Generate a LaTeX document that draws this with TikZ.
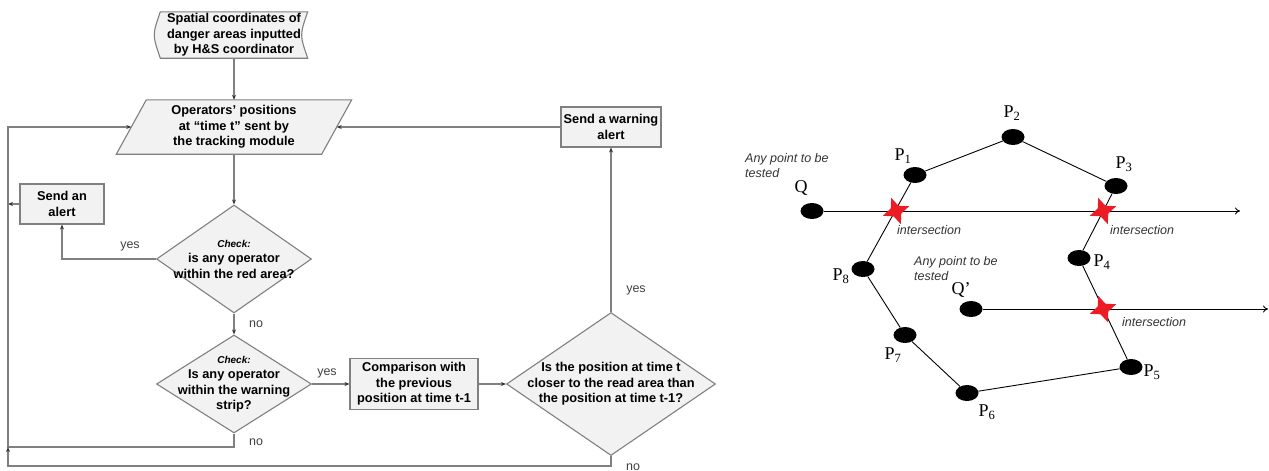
\documentclass[tikz,border=0pt]{standalone}
\usepackage{fontspec}
\setmainfont{Liberation Sans}
\newfontfamily\tnr{Liberation Serif}
\usepackage{tikz}
\usetikzlibrary{arrows,arrows.meta,shapes,positioning,calc,backgrounds}
\usepackage{xcolor}
\definecolor{fcline}{RGB}{128,128,128}
\definecolor{fcfill}{RGB}{242,242,242}
\definecolor{xred}{RGB}{235,28,36}
\newcommand{\fcfont}{\fontsize{12.8}{15.5}\selectfont\bfseries}
\newcommand{\chk}{{\fontsize{10}{15.5}\selectfont\bfseries\itshape Check:}}
\tikzstyle{flow} = [line width=1.1pt, draw=fcline, -{Stealth[length=5pt,width=4pt,black!80]}]
\tikzstyle{ray} = [line width=0.9pt, -{To[length=5pt,width=7pt]}]
\tikzstyle{edge} = [line width=0.9pt]
\tikzstyle{shapeline} = [draw=fcline, line width=1.1pt, fill=fcfill]
\tikzstyle{process} = [rectangle, shapeline, align=center, font=\fcfont, inner sep=0pt]
\tikzstyle{plain} = [rectangle, align=center, font=\fcfont, inner sep=0pt]
\tikzstyle{decision} = [diamond, shapeline, inner sep=0pt]
\tikzstyle{dectext} = [align=center, font=\fcfont]
\tikzstyle{answer} = [font=\fontsize{12.5}{14}\selectfont, text=black!75, inner sep=0pt]
\tikzstyle{dot} = [ellipse, fill=black, minimum width=23pt, minimum height=16pt, inner sep=0pt]
\tikzstyle{cross} = [star, star points=4, star point ratio=2.4, fill=xred, minimum size=28pt, inner sep=0pt, rotate=20]
\tikzstyle{note} = [font=\fontsize{12.5}{15}\selectfont\itshape, text=black!80, align=left, anchor=west, inner sep=0pt]
\tikzstyle{plab} = [font=\fontsize{18}{18}\selectfont\tnr, inner sep=0pt]

\begin{document}
\begin{tikzpicture}[x=1pt, y=-1pt]
\useasboundingbox (0,0) rectangle (1269,471);

% Flowchart
\node (src) [plain, minimum width=147pt, minimum height=46pt] at (234,35) {Spatial coordinates of\\danger areas inputted\\by H\&S coordinator};
\node (pos) [plain, minimum width=205pt, minimum height=54pt] at (234,127) {Operators’ positions\\at “time t” sent by\\the tracking module};
\begin{scope}[on background layer]
\draw[shapeline] (src.north west) .. controls ($(src.west)+(-8,0)$) .. (src.south west) -- (src.south east) .. controls ($(src.east)+(-8,0)$) .. (src.north east) -- cycle;
\draw[shapeline] ([xshift=-15pt]pos.south west) -- ([xshift=15pt]pos.north west) -- ([xshift=15pt]pos.north east) -- ([xshift=-15pt]pos.south east) -- cycle;
\end{scope}

\node (alert) [process, minimum width=84pt, minimum height=40pt] at (62,204) {Send an\\alert};
\node (warn) [process, minimum width=100pt, minimum height=40pt] at (611,127) {Send a warning\\alert};
\node (cmp) [process, minimum width=128pt, minimum height=51pt] at (414,384) {Comparison with\\the previous\\position at time t-1};

\node (chk1) [decision, minimum width=155pt, minimum height=108pt, label={[dectext]center:{\chk\\is any operator\\within the red area?}}] at (234,259) {};
\node (chk2) [decision, minimum width=155pt, minimum height=98pt, label={[dectext]center:{\chk\\Is any operator\\within the warning\\strip?}}] at (234,384) {};
\node (chk3) [decision, minimum width=209pt, minimum height=143pt, label={[dectext]center:{Is the position at time t\\closer to the read area than\\the position at time t-1?}}] at (611,384) {};

% Answers
\node (y1) [answer] at (130,246) {yes};
\node (n1) [answer] at (256,324) {no};
\node (y2) [answer] at (327,373) {yes};
\node (n2) [answer] at (256,442) {no};
\node (y3) [answer] at (636,290) {yes};
\node (n3) [answer] at (633,467) {no};

% Loop back
\coordinate (loopA) at (8,447);
\coordinate (loopB) at (8,466);

% Connections
\draw[flow] (src) -- (pos);
\draw[flow] (pos) -- (chk1);
\draw[flow] (chk1.west) -| (alert.south);
\draw[flow] (alert.west) -- (alert.west -| loopA);
\draw[flow] (chk1) -- (chk2);
\draw[flow] (chk2.east) -- (cmp.west);
\draw[flow] (cmp.east) -- (chk3.west);
\draw[flow] (chk3.north) -- (warn.south);
\draw[flow] (warn.west) -- (pos.east);
\draw[flow] (chk2.south) |- (loopA) |- (pos.west);
\draw[flow] (chk3.south) |- (loopB) -- (loopA);

% Polygon test
\node (p1) [dot] at (915,175) {};
\node (p2) [dot] at (1013,137) {};
\node (p3) [dot] at (1116,186) {};
\node (p4) [dot] at (1079,258) {};
\node (p5) [dot] at (1131,367) {};
\node (p6) [dot] at (967,393) {};
\node (p7) [dot] at (905,335) {};
\node (p8) [dot] at (863,269) {};
\node (q) [dot] at (812,211) {};
\node (qq) [dot] at (971,309) {};

\node (lp1) [plab] at (903,156) {P\textsubscript{1}};
\node (lp2) [plab] at (1012,113) {P\textsubscript{2}};
\node (lp3) [plab] at (1124,164) {P\textsubscript{3}};
\node (lp4) [plab] at (1102,262) {P\textsubscript{4}};
\node (lp5) [plab] at (1152,372) {P\textsubscript{5}};
\node (lp6) [plab] at (987,412) {P\textsubscript{6}};
\node (lp7) [plab] at (893,355) {P\textsubscript{7}};
\node (lp8) [plab] at (841,276) {P\textsubscript{8}};
\node (lq) [plab] at (801,188) {Q};
\node (lqq) [plab] at (961,290) {Q’};

\node (t1) [note] at (745,166) {Any point to be\\tested};
\node (t2) [note] at (914,269) {Any point to be\\tested};

\draw[edge] (p1) -- (p2) -- (p3) -- (p4) -- (p5) -- (p6) -- (p7) -- (p8) -- (p1);

\coordinate (qend) at (1240,211);
\coordinate (qqend) at (1268,309);
\draw[ray] (q) -- (qend);
\draw[ray] (qq) -- (qqend);

% Intersections
\node (x1) [cross] at (896,211) {};
\node (x2) [cross] at (1103,211) {};
\node (x3) [cross] at (1103,309) {};
\node (lx1) [note] at (897,230) {intersection};
\node (lx2) [note] at (1110,230) {intersection};
\node (lx3) [note] at (1122,322) {intersection};
\end{tikzpicture}
\end{document}
